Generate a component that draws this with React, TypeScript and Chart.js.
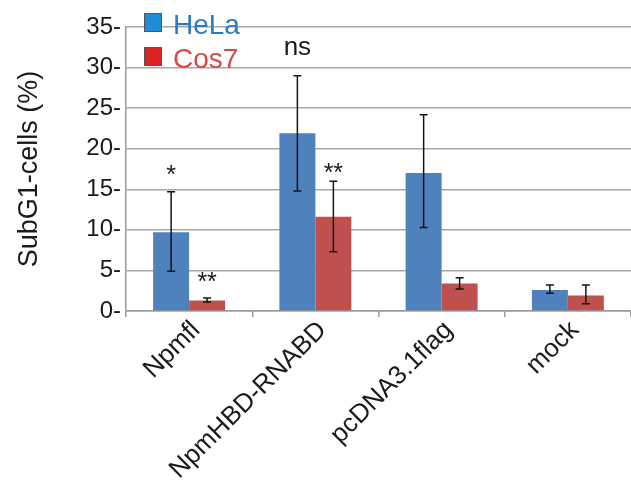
import { useEffect, useRef } from "react";
import { Chart, registerables } from "chart.js";

Chart.register(...registerables);

const categories = ["Npmfl", "NpmHBD-RNABD", "pcDNA3.1flag", "mock"];
const seriesNames = ["HeLa", "Cos7"];
const helaValues = [9.7, 21.9, 17.0, 2.6];
const helaErrLow = [4.9, 14.8, 10.3, 2.2];
const helaErrHigh = [14.7, 29.0, 24.2, 3.2];
const cos7Values = [1.3, 11.6, 3.4, 1.9];
const cos7ErrLow = [1.1, 7.3, 2.7, 0.9];
const cos7ErrHigh = [1.6, 16.0, 4.1, 3.2];
const yTickValues = [0, 5, 10, 15, 20, 25, 30, 35];
const annotationTexts = ["*", "**", "ns", "**"];
const annotationCategory = [0, 0, 1, 1];
const annotationSeries = [0, 1, 0, 1];
const annotationValue = [15.8, 2.6, 31.6, 16.0];

const barColors = ["#4f81bd", "#c0504d"];
const legendBoxColors = ["#1f8ed6", "#dc2424"];
const legendTextColors = ["#2b7bbf", "#d44a48"];
const errLows = [helaErrLow, cos7ErrLow];
const errHighs = [helaErrHigh, cos7ErrHigh];
const FONT = "'Liberation Sans', Arial, sans-serif";

const errorBarPlugin = {
  id: "errorBars",
  afterDatasetsDraw(chart: any) {
    const ctx = chart.ctx;
    const y = chart.scales.y;
    ctx.save();
    ctx.strokeStyle = "#151515";
    ctx.lineWidth = 1.5;
    chart.data.datasets.forEach((_ds: any, di: number) => {
      const meta = chart.getDatasetMeta(di);
      meta.data.forEach((el: any, i: number) => {
        const x = el.x;
        const yl = y.getPixelForValue(errLows[di][i]);
        const yh = y.getPixelForValue(errHighs[di][i]);
        ctx.beginPath();
        ctx.moveTo(x, yl);
        ctx.lineTo(x, yh);
        ctx.moveTo(x - 4, yl);
        ctx.lineTo(x + 4, yl);
        ctx.moveTo(x - 4, yh);
        ctx.lineTo(x + 4, yh);
        ctx.stroke();
      });
    });
    ctx.restore();
  },
};

const annotationPlugin = {
  id: "annotations",
  afterDatasetsDraw(chart: any) {
    const ctx = chart.ctx;
    const y = chart.scales.y;
    ctx.save();
    ctx.fillStyle = "#1a1a1a";
    ctx.textAlign = "center";
    ctx.textBaseline = "alphabetic";
    annotationTexts.forEach((t, k) => {
      const el = chart.getDatasetMeta(annotationSeries[k]).data[annotationCategory[k]];
      ctx.font = (t === "ns" ? "26px " : "25px ") + FONT;
      ctx.fillText(t, el.x, y.getPixelForValue(annotationValue[k]));
    });
    ctx.restore();
  },
};

const legendPlugin = {
  id: "customLegend",
  afterDraw(chart: any) {
    const ctx = chart.ctx;
    const left = chart.chartArea.left + 18;
    const top = chart.chartArea.top - 14;
    ctx.save();
    ctx.font = "28px " + FONT;
    ctx.textBaseline = "alphabetic";
    ctx.textAlign = "left";
    seriesNames.forEach((name, i) => {
      const by = top + i * 34;
      ctx.fillStyle = legendBoxColors[i];
      ctx.fillRect(left, by, 18, 19);
      ctx.strokeStyle = "#555";
      ctx.lineWidth = 1;
      ctx.strokeRect(left + 0.5, by + 0.5, 17, 18);
      ctx.fillStyle = legendTextColors[i];
      ctx.fillText(name, left + 29, by + 21);
    });
    ctx.restore();
  },
};

export default function App() {
  const ref = useRef<HTMLCanvasElement | null>(null);
  useEffect(() => {
    if (!ref.current) return;
    const chart = new Chart(ref.current, {
      type: "bar",
      data: {
        labels: categories,
        datasets: [
          {
            label: seriesNames[0],
            data: helaValues,
            backgroundColor: barColors[0],
            categoryPercentage: 0.57,
            barPercentage: 1.0,
          },
          {
            label: seriesNames[1],
            data: cos7Values,
            backgroundColor: barColors[1],
            categoryPercentage: 0.57,
            barPercentage: 1.0,
          },
        ],
      },
      options: {
        animation: false,
        responsive: true,
        maintainAspectRatio: false,
        layout: { padding: { top: 27, right: 0, left: 0, bottom: 0 } },
        plugins: {
          legend: { display: false },
          tooltip: { enabled: false },
        },
        scales: {
          x: {
            offset: true,
            grid: {
              offset: true,
              drawOnChartArea: false,
              drawTicks: true,
              tickLength: 6,
              color: "#9a9a9a",
              lineWidth: 1.5,
            },
            border: { display: true, color: "#9a9a9a", width: 1.5 },
            ticks: {
              minRotation: 45,
              maxRotation: 45,
              color: "#1a1a1a",
              font: { family: FONT, size: 26 },
              padding: -2,
              labelOffset: 7,
            },
            afterFit(scale: any) {
              scale.height = 173;
            },
          },
          y: {
            min: 0,
            max: 35,
            afterBuildTicks(scale: any) {
              scale.ticks = yTickValues.map((v) => ({ value: v }));
            },
            grid: {
              color: "#a8a8a8",
              lineWidth: 1.5,
              drawTicks: false,
            },
            border: { display: true, color: "#9a9a9a", width: 1.5 },
            ticks: {
              color: "#1a1a1a",
              font: { family: FONT, size: 24 },
              padding: 5,
              callback: (v: any) => v + "-",
            },
            title: {
              display: true,
              text: "SubG1-cells (%)",
              color: "#1a1a1a",
              font: { family: FONT, size: 27 },
              padding: { top: 13, bottom: 4 },
            },
            afterFit(scale: any) {
              scale.width = 126;
            },
          },
        },
      },
      plugins: [errorBarPlugin, annotationPlugin, legendPlugin],
    });
    return () => chart.destroy();
  }, []);
  return (
    <div
      style={{
        position: "fixed",
        left: 0,
        top: 0,
        width: 631,
        height: 484,
        background: "#fff",
      }}
    >
      <canvas ref={ref} />
    </div>
  );
}
